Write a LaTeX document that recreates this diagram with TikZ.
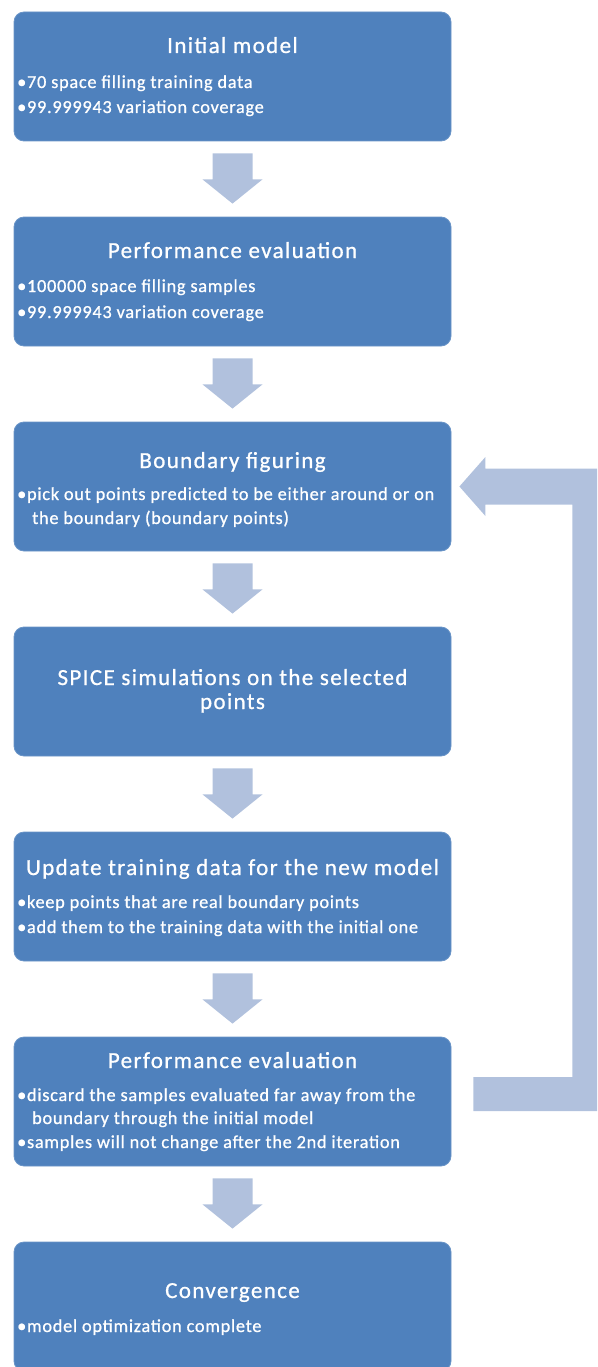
\documentclass[tikz,border=0pt]{standalone}
\usepackage{fontspec}
\setmainfont{Carlito}
\newfontfamily\ttlfont[LetterSpace=6,FakeBold=0.8]{Carlito}
\newfontfamily\txtfont[LetterSpace=4,FakeBold=0.8]{Carlito}
\usetikzlibrary{calc}
\definecolor{boxblue}{HTML}{4F81BD}
\definecolor{arrowblue}{HTML}{B1C1DD}
\newcommand\stagearrow[2]{\fill[blockarrow] ($(#1.south)+(-20,12)$) -- ($(#1.south)+(20,12)$) -- ($(#1.south)+(20,38)$) -- ($(#1.south)+(30,38)$) -- ($(#2.north)+(0,-13)$) -- ($(#1.south)+(-30,38)$) -- ($(#1.south)+(-20,38)$) -- cycle;}
\begin{document}
\begin{tikzpicture}[x=1pt,y=-1pt,
  stagebox/.style={fill=boxblue, draw=boxblue!85!white, line width=0.8pt, rounded corners=10pt, minimum width=437pt, minimum height=129pt, inner sep=0pt},
  ttl/.style={text=white, font=\ttlfont\fontsize{23}{27}\selectfont, anchor=base, inner sep=0pt},
  txt/.style={text=white, font=\txtfont\fontsize{18.3}{22}\selectfont, anchor=base west, inner sep=0pt},
  blockarrow/.style={fill=arrowblue}]
\useasboundingbox (0,0) rectangle (597,1367);
\clip (0,0) rectangle (597,1367);
% boxes
\node[stagebox] (b1) at (232.5,76.5) {};
\node[stagebox] (b2) at (232.5,281.5) {};
\node[stagebox] (b3) at (232.5,486.5) {};
\node[stagebox] (b4) at (232.5,691.5) {};
\node[stagebox] (b5) at (232.5,896.5) {};
\node[stagebox] (b6) at (232.5,1101.5) {};
\node[stagebox] (b7) at (232.5,1306.5) {};
% texts
\node[ttl] (t1) at (232.5,53) {Initial model};
\node[txt] (t1a) at (17,88) {•70 space filling training data};
\node[txt] (t1b) at (17,113) {•99.999943 variation coverage};
\node[ttl] (t2) at (232.5,258) {Performance evaluation};
\node[txt] (t2a) at (17,292) {•100000 space filling samples};
\node[txt] (t2b) at (17,318) {•99.999943 variation coverage};
\node[ttl] (t3) at (232.5,468) {Boundary figuring};
\node[txt] (t3a) at (17,500) {•pick out points predicted to be either around or on};
\node[txt] (t3b) at (32,524) {the boundary (boundary points)};
\node[ttl] (t4a) at (232.5,685) {SPICE simulations on the selected};
\node[ttl] (t4b) at (232.5,709) {points};
\node[ttl] (t5) at (232.5,875) {Update training data for the new model};
\node[txt] (t5a) at (17,908) {•keep points that are real boundary points};
\node[txt] (t5b) at (17,933) {•add them to the training data with the initial one};
\node[ttl] (t6) at (232.5,1068) {Performance evaluation};
\node[txt] (t6a) at (17,1101) {•discard the samples evaluated far away from the};
\node[txt] (t6b) at (32,1124) {boundary through the initial model};
\node[txt] (t6c) at (17,1148) {•samples will not change after the 2nd iteration};
\node[ttl] (t7) at (232.5,1298) {Convergence};
\node[txt] (t7a) at (17,1332) {•model optimization complete};
% down arrows
\stagearrow{b1}{b2}
\stagearrow{b2}{b3}
\stagearrow{b3}{b4}
\stagearrow{b4}{b5}
\stagearrow{b5}{b6}
\stagearrow{b6}{b7}
% feedback arrow
\fill[blockarrow] ($(b3.east)+(8,0)$) -- ($(b3.east)+(34,-29.5)$) -- ($(b3.east)+(34,-18)$) -- ($(b3.east)+(157,-18)$) -- ($(b6.east)+(157,9.5)$) -- ($(b6.east)+(22,9.5)$) -- ($(b6.east)+(22,-24.5)$) -- ($(b6.east)+(121,-24.5)$) -- ($(b3.east)+(121,18)$) -- ($(b3.east)+(34,18)$) -- ($(b3.east)+(34,29.5)$) -- cycle;
\end{tikzpicture}
\end{document}
